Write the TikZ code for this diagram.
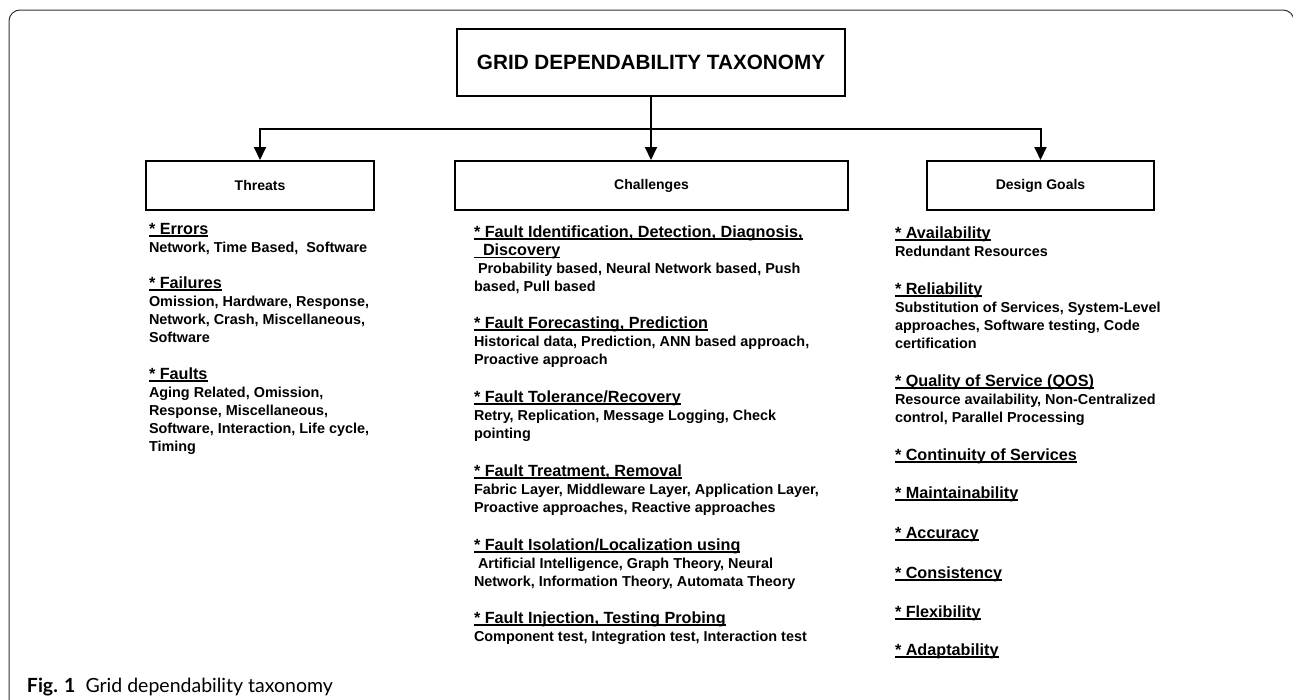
\documentclass[tikz,border=0pt]{standalone}
\usepackage{fontspec}
\setmainfont{Liberation Sans}
\newfontfamily\capfont{Lato}
\usetikzlibrary{arrows.meta}
\newcommand\hdline[1]{\setbox0\hbox{#1}\rlap{\rule[-2.6pt]{\wd0}{1.3pt}}\box0}
\newcommand\Hl[1]{\hbox{\fontsize{16.2}{18.3}\selectfont\bfseries\hdline{#1}}}
\newcommand\Bl[1]{\hbox{\fontsize{14.4}{18.3}\selectfont\bfseries #1}}
\newcommand\Blk[1]{\vtop{\baselineskip=18.2pt\lineskiplimit=-20pt\lineskip=0pt #1}}
\tikzset{
  txt/.style={anchor=base west, inner sep=0pt, outer sep=0pt},
  catbox/.style={draw, line width=2pt, minimum height=49pt, inner sep=0pt,
    font=\fontsize{14}{16}\selectfont\bfseries},
  titlebox/.style={draw, line width=2.2pt, minimum width=388pt, minimum height=67pt, inner sep=0pt,
    font=\fontsize{20.7}{24}\selectfont\bfseries},
  conn/.style={line width=2pt, -{Triangle[length=13pt,width=12pt]}},
  framec/.style={draw=black!80, line width=1pt, rounded corners=11pt}
}
\begin{document}
\begin{tikzpicture}[x=1pt, y=-1pt]
\useasboundingbox (0,0) rectangle (1293,699);
\draw[framec] (9,720) -- (9,10) -- (1294,10) -- (1294,720);

\node[titlebox] (root) at (651,62.5) {GRID DEPENDABILITY TAXONOMY};
\node[catbox, minimum width=228pt] (thr) at (260,185.5) {Threats};
\node[catbox, minimum width=393pt] (chal) at (651.5,185.5) {Challenges};
\node[catbox, minimum width=227pt] (des) at (1040.5,185.5) {Design Goals};

\coordinate (j) at (651,129);
\draw[conn] (root.south) -- (chal.north -| root.south);
\draw[conn] (j) -| (thr.north);
\draw[conn] (j) -| (des.north);

% Threats
\node[txt] (thA) at (149,234) {\Blk{\Hl{* Errors}\Bl{Network, Time Based,\ \ Software}}};
\node[txt] (thB) at (149,288) {\Blk{\Hl{* Failures}\Bl{Omission, Hardware, Response,}\Bl{Network, Crash, Miscellaneous,}\Bl{Software}}};
\node[txt] (thC) at (149,379) {\Blk{\Hl{* Faults}\Bl{Aging Related, Omission,}\Bl{Response, Miscellaneous,}\Bl{Software, Interaction, Life cycle,}\Bl{Timing}}};

% Challenges
\node[txt] (chA) at (474,237) {\Blk{\Hl{* Fault Identification, Detection, Diagnosis,}\Hl{\ \ Discovery}\Bl{\ Probability based, Neural Network based, Push}\Bl{based, Pull based}}};
\node[txt] (chB) at (474,328) {\Blk{\Hl{* Fault Forecasting, Prediction}\Bl{Historical data, Prediction, ANN based approach,}\Bl{Proactive approach}}};
\node[txt] (chC) at (474,402) {\Blk{\Hl{* Fault Tolerance/Recovery}\Bl{Retry, Replication, Message Logging, Check}\Bl{pointing}}};
\node[txt] (chD) at (474,476) {\Blk{\Hl{* Fault Treatment, Removal}\Bl{Fabric Layer, Middleware Layer, Application Layer,}\Bl{Proactive approaches, Reactive approaches}}};
\node[txt] (chE) at (474,550) {\Blk{\Hl{* Fault Isolation/Localization using}\Bl{\ Artificial Intelligence, Graph Theory, Neural}\Bl{Network, Information Theory, Automata Theory}}};
\node[txt] (chF) at (474,623) {\Blk{\Hl{* Fault Injection, Testing Probing}\Bl{Component test, Integration test, Interaction test}}};

% Design goals
\node[txt] (dgA) at (895,238) {\Blk{\Hl{* Availability}\Bl{Redundant Resources}}};
\node[txt] (dgB) at (895,294) {\Blk{\Hl{* Reliability}\Bl{Substitution of Services, System-Level}\Bl{approaches, Software testing, Code}\Bl{certification}}};
\node[txt] (dgC) at (895,386) {\Blk{\Hl{* Quality of Service (QOS)}\Bl{Resource availability, Non-Centralized}\Bl{control, Parallel Processing}}};
\node[txt] (dgD) at (895,460) {\Blk{\Hl{* Continuity of Services}}};
\node[txt] (dgE) at (895,498) {\Blk{\Hl{* Maintainability}}};
\node[txt] (dgF) at (895,538) {\Blk{\Hl{* Accuracy}}};
\node[txt] (dgG) at (895,578) {\Blk{\Hl{* Consistency}}};
\node[txt] (dgH) at (895,617) {\Blk{\Hl{* Flexibility}}};
\node[txt] (dgI) at (895,655) {\Blk{\Hl{* Adaptability}}};

\node[txt] (cap) at (27,692) {\capfont\fontsize{19.5}{21}\selectfont\textbf{Fig. 1}\hspace{10pt}Grid dependability taxonomy};
\end{tikzpicture}
\end{document}
